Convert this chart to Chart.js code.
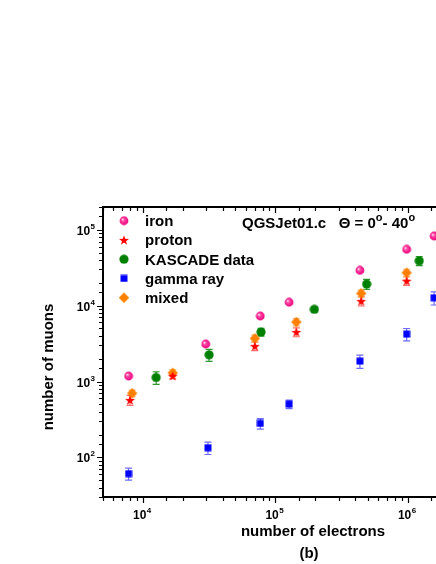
<!DOCTYPE html>
<html>
<head>
<meta charset="utf-8">
<script src="https://cdn.jsdelivr.net/npm/chart.js@4.4.0/dist/chart.umd.min.js"></script>
<style>
  html, body { margin: 0; padding: 0; background: #fff; overflow: hidden; }
  #wrap { width: 480px; height: 564px; }
</style>
</head>
<body>
<div id="wrap"><canvas id="c" width="480" height="564"></canvas></div>
<script>
// data (x = number of electrons, y = number of muons, err = +/- on y)
const seriesNames = ['iron', 'proton', 'KASCADE data', 'gamma ray', 'mixed'];

const ironX = [7.8e3, 2.98e4, 7.7e4, 1.27e5, 4.35e5, 9.8e5, 1.58e6];
const ironY = [1180, 3120, 7300, 11100, 29200, 55300, 82800];
const ironErr = [60, 180, 380, 580, 1500, 2900, 4300];

const protonX = [8.0e3, 1.68e4, 7.0e4, 1.44e5, 4.45e5, 9.8e5];
const protonY = [570, 1190, 2930, 4490, 11500, 21300];
const protonErr = [85, 110, 380, 600, 1600, 2800];

const kascadeX = [1.26e4, 3.16e4, 7.8e4, 1.97e5, 4.89e5, 1.22e6];
const kascadeY = [1130, 2250, 4500, 8950, 19300, 39100];
const kascadeErr = [215, 410, 540, 650, 2900, 5400];

const gammaX = [7.8e3, 3.1e4, 7.7e4, 1.27e5, 4.35e5, 9.8e5, 1.58e6];
const gammaY = [61, 134, 280, 504, 1860, 4220, 12700];
const gammaErr = [11, 25, 45, 65, 370, 780, 2500];

const mixedX = [8.3e3, 1.68e4, 7.0e4, 1.44e5, 4.45e5, 9.8e5];
const mixedY = [700, 1300, 3700, 6080, 14500, 27200];
const mixedErr = [70, 130, 400, 650, 1500, 3000];

const xMajorTicks = [1e4, 1e5, 1e6];
const yMajorTicks = [1e2, 1e3, 1e4, 1e5];

const FONT = '"Liberation Sans", Arial, sans-serif';

// ---- marker images ----
function mk(size, draw) {
  const c = document.createElement('canvas');
  c.width = size; c.height = size;
  draw(c.getContext('2d'), size / 2);
  return c;
}
const ballImg = mk(10, (g, m) => {
  const gr = g.createRadialGradient(m - 1.5, m - 1.5, 0.3, m, m, 4.6);
  gr.addColorStop(0, '#ffe0f0');
  gr.addColorStop(0.35, '#ff3fa0');
  gr.addColorStop(1, '#e8007c');
  g.fillStyle = gr;
  g.beginPath(); g.arc(m, m, 4.4, 0, Math.PI * 2); g.fill();
});
const starImg = mk(12, (g, m) => {
  g.fillStyle = '#ff0000';
  g.beginPath();
  for (let i = 0; i < 10; i++) {
    const r = i % 2 ? 2.1 : 5.2;
    const a = -Math.PI / 2 + i * Math.PI / 5;
    g.lineTo(m + r * Math.cos(a), m + 0.5 + r * Math.sin(a));
  }
  g.closePath(); g.fill();
});
const dotImg = mk(10, (g, m) => {
  g.fillStyle = '#008000';
  g.beginPath(); g.arc(m, m, 4.6, 0, Math.PI * 2); g.fill();
});
const squareImg = mk(8, (g, m) => {
  g.fillStyle = '#0000ff';
  g.fillRect(0.5, 0.5, 7, 7);
});
const diamondImg = mk(12, (g, m) => {
  g.fillStyle = '#ff8000';
  g.beginPath();
  g.moveTo(m, m - 5.2); g.lineTo(m + 5.2, m); g.lineTo(m, m + 5.2); g.lineTo(m - 5.2, m);
  g.closePath(); g.fill();
});

const markers = [ballImg, starImg, dotImg, squareImg, diamondImg];
const barColors = ['#ff8cc6', '#ff7070', '#2e9a2e', '#6b6bff', '#ffb366'];

function pts(xs, ys) { return xs.map((x, i) => ({ x: x, y: ys[i] })); }
const errs = [ironErr, protonErr, kascadeErr, gammaErr, mixedErr];

const datasets = [
  { label: seriesNames[0], data: pts(ironX, ironY) },
  { label: seriesNames[1], data: pts(protonX, protonY) },
  { label: seriesNames[2], data: pts(kascadeX, kascadeY) },
  { label: seriesNames[3], data: pts(gammaX, gammaY) },
  { label: seriesNames[4], data: pts(mixedX, mixedY) }
].map((d, i) => Object.assign(d, {
  pointStyle: markers[i], pointRadius: 5, pointHoverRadius: 5, showLine: false, clip: false
}));

function isPow10(v) {
  const l = Math.log10(v);
  return Math.abs(l - Math.round(l)) < 1e-9;
}

// "10" with a raised exponent
function pow10Label(ctx, exp, x, y, align) {
  ctx.font = 'bold 12px ' + FONT;
  const wb = ctx.measureText('10').width;
  ctx.font = 'bold 8px ' + FONT;
  const we = ctx.measureText(String(exp)).width;
  let x0 = x;
  if (align === 'right') x0 = x - wb - we - 0.5;
  else if (align === 'center') x0 = x - (wb + we) / 2;
  ctx.textAlign = 'left';
  ctx.textBaseline = 'alphabetic';
  ctx.font = 'bold 12px ' + FONT;
  ctx.fillText('10', x0, y);
  ctx.font = 'bold 8px ' + FONT;
  ctx.fillText(String(exp), x0 + wb + 0.5, y - 6);
}

const errorBars = {
  id: 'errorBars',
  beforeDatasetsDraw(chart) {
    const ctx = chart.ctx, ys = chart.scales.y;
    ctx.save();
    ctx.lineWidth = 1.2;
    chart.data.datasets.forEach((ds, i) => {
      const meta = chart.getDatasetMeta(i);
      ctx.strokeStyle = barColors[i];
      meta.data.forEach((el, j) => {
        const v = ds.data[j].y, e = errs[i][j];
        const top = ys.getPixelForValue(v + e);
        const bot = ys.getPixelForValue(Math.max(v - e, 1));
        const x = el.x;
        ctx.beginPath();
        ctx.moveTo(x, top); ctx.lineTo(x, bot);
        ctx.moveTo(x - 3.5, top); ctx.lineTo(x + 3.5, top);
        ctx.moveTo(x - 3.5, bot); ctx.lineTo(x + 3.5, bot);
        ctx.stroke();
      });
    });
    ctx.restore();
  }
};

const frame = {
  id: 'frame',
  afterDraw(chart) {
    const ctx = chart.ctx, a = chart.chartArea;
    const xs = chart.scales.x, ys = chart.scales.y;
    ctx.save();
    ctx.strokeStyle = '#000';
    ctx.fillStyle = '#000';

    // axis lines
    ctx.lineWidth = 2;
    ctx.beginPath();
    ctx.moveTo(a.left, a.top - 1); ctx.lineTo(a.left, a.bottom + 1);
    ctx.moveTo(a.left - 1, a.bottom); ctx.lineTo(a.right + 1, a.bottom);
    ctx.moveTo(a.left - 1, a.top); ctx.lineTo(a.right + 1, a.top);
    ctx.stroke();

    // tick marks
    ctx.lineWidth = 1.2;
    ctx.beginPath();
    xs.ticks.forEach(t => {
      const px = Math.round(xs.getPixelForValue(t.value)) + 0.5;
      const len = isPow10(t.value) ? 5 : 3;
      ctx.moveTo(px, a.bottom + 1); ctx.lineTo(px, a.bottom + 1 + len);
      ctx.moveTo(px, a.top + 1); ctx.lineTo(px, a.top + 1 + len);
    });
    ys.ticks.forEach(t => {
      const py = Math.round(ys.getPixelForValue(t.value)) + 0.5;
      const len = isPow10(t.value) ? 5 : 3;
      ctx.moveTo(a.left - 1, py); ctx.lineTo(a.left - 1 - len, py);
    });
    ctx.stroke();

    // tick labels
    xMajorTicks.forEach(v => {
      pow10Label(ctx, Math.round(Math.log10(v)), xs.getPixelForValue(v) - 1, a.bottom + 22, 'center');
    });
    yMajorTicks.forEach(v => {
      pow10Label(ctx, Math.round(Math.log10(v)), a.left - 8, ys.getPixelForValue(v) + 5, 'right');
    });

    // axis titles
    ctx.font = 'bold 15px ' + FONT;
    ctx.textAlign = 'center';
    ctx.textBaseline = 'alphabetic';
    ctx.fillText('number of electrons', 313, 536);
    ctx.fillText('(b)', 309, 558);
    ctx.save();
    ctx.translate(53, 367);
    ctx.rotate(-Math.PI / 2);
    ctx.fillText('number of muons', 0, 0);
    ctx.restore();

    // header text
    let x = 242;
    const yb = 228;
    ctx.textAlign = 'left';
    const put = (s, big, dy) => {
      ctx.font = 'bold ' + big + 'px ' + FONT;
      ctx.fillText(s, x, yb + dy);
      x += ctx.measureText(s).width;
    };
    put('QGSJet01.c   \u0398 = 0', 15, 0);
    put('o', 11, -7);
    put('- 40', 15, 0);
    put('o', 11, -7);

    // legend
    seriesNames.forEach((name, i) => {
      const cy = 220.7 + i * 19.25;
      const img = markers[i];
      ctx.drawImage(img, 124 - img.width / 2, cy - img.height / 2);
      ctx.font = 'bold 15px ' + FONT;
      ctx.fillText(name, 145, cy + 5.5);
    });
    ctx.restore();
  }
};

new Chart(document.getElementById('c'), {
  type: 'scatter',
  data: { datasets: datasets },
  options: {
    responsive: false,
    animation: false,
    events: [],
    layout: { autoPadding: false, padding: { top: 207, right: 9, left: 0, bottom: 0 } },
    plugins: { legend: { display: false }, tooltip: { enabled: false }, title: { display: false } },
    scales: {
      x: {
        type: 'logarithmic', min: 5000, max: 3e6,
        grid: { display: false }, border: { display: false },
        ticks: { display: false },
        afterFit(s) { s.height = 67; }
      },
      y: {
        type: 'logarithmic', min: 30, max: 2e5,
        grid: { display: false }, border: { display: false },
        ticks: { display: false },
        afterFit(s) { s.width = 103; }
      }
    }
  },
  plugins: [errorBars, frame]
});
</script>
</body>
</html>
